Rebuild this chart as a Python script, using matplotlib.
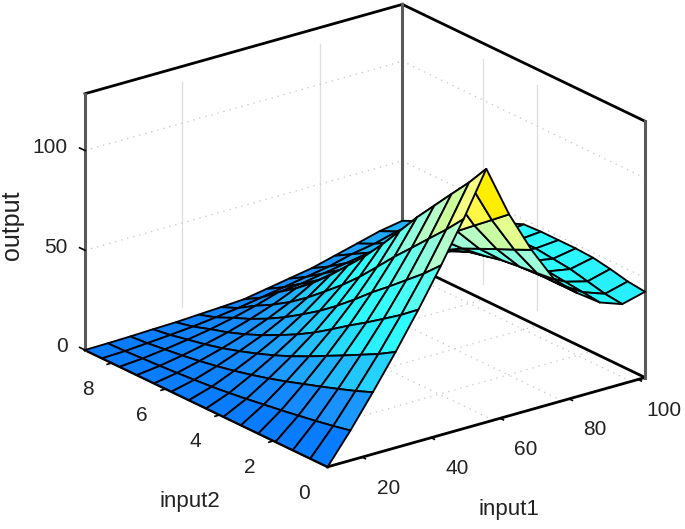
"""Surface of output over input1 / input2, drawn with a hand-placed 3D box."""
import matplotlib
matplotlib.use('Agg')
import matplotlib.pyplot as plt
import numpy as np
from matplotlib.colors import LinearSegmentedColormap, Normalize
from mpl_toolkits.mplot3d import proj3d

plt.rcParams['font.family'] = ['Liberation Sans', 'DejaVu Sans']

W, H = 685, 529

input1 = [10, 16.6, 23.1, 29.7, 36.3, 42.9, 49.4, 56, 62.6, 69.1, 75.7, 82.3, 88.9, 95.4, 102]
input2 = [0, 0.64, 1.29, 1.93, 2.57, 3.21, 3.86, 4.5, 5.14, 5.79, 6.43, 7.07, 7.71, 8.36, 9]

# one row per input1 value, one column per input2 value
output = [
    [0, 0, 0, 0, 0, 0, 0, 0, 0, 0, 0, 0, 0, 0, 0],
    [15, 13.1, 11.4, 9.9, 8.4, 7.1, 5.7, 4.5, 3.5, 2.7, 2, 1.4, 0.9, 0.4, 0.15],
    [31, 27.5, 24.3, 21.3, 18.4, 15.5, 12.8, 10.4, 8.3, 6.4, 4.8, 3.4, 2.3, 1.2, 0.4],
    [48, 42.8, 38.2, 33.7, 29.3, 24.9, 20.7, 17, 13.7, 10.7, 8, 5.8, 4, 2.1, 0.8],
    [66, 59.2, 53, 47, 41.3, 35.3, 29.4, 24.3, 19.8, 15.5, 11.8, 8.6, 6, 3.1, 1.1],
    [85, 76.7, 69.2, 61.8, 54.7, 47, 39.6, 32.9, 27, 21.3, 16.4, 12.1, 8.5, 4.5, 1.7],
    [105, 95.6, 86.8, 78, 69.4, 60.1, 50.9, 42.7, 35.3, 28, 21.6, 16.1, 11.4, 6, 2.3],
    [127, 116, 106, 96, 86, 75, 64, 54, 45, 36, 28, 21, 15, 8, 3],
    [101, 94, 87, 80, 72, 64, 56, 49, 41, 34, 28, 22, 16, 10, 5],
    [80, 76, 72, 68, 64, 59, 53, 47, 41, 35, 29, 24, 18, 12, 7],
    [62, 61, 60, 59, 57, 55, 51, 46, 41, 36, 31, 25, 20, 14, 9],
    [52, 52, 52, 52, 52, 51, 49, 46, 41, 37, 32, 27, 22, 17, 12],
    [44, 45, 46, 47, 48, 48, 47, 45, 42, 38, 34, 29, 24, 19, 15],
    [40, 41, 43, 45, 46, 47, 47, 46, 43, 39, 35, 31, 27, 22, 18],
    [43, 44, 46, 47.5, 48, 48, 48, 47.5, 44, 40, 37, 33, 29, 24, 20],
]

x_ticks = [20, 40, 60, 80, 100]
y_ticks = [0, 2, 4, 6, 8]
z_ticks = [0, 50, 100]

x_wall_grid = [38, 78]
y_wall_grid = [6, 4]
x_floor_grid = [58, 78, 98]
y_floor_grid = [2, 4, 6]

XLIM = (10, 102)
YLIM = (0, 9)
ZLIM = (0, 128.5)

cmap = LinearSegmentedColormap.from_list('surf', [
    (0.0, '#0a7cff'),
    (0.10, '#1a90ff'),
    (0.20, '#22c0ff'),
    (0.30, '#26ecff'),
    (0.40, '#30ffff'),
    (0.52, '#58fff0'),
    (0.66, '#b0ffd4'),
    (0.76, '#ceff98'),
    (0.84, '#fdff80'),
    (1.0, '#ffee00'),
])

fig = plt.figure(figsize=(W / 100, H / 100), dpi=100)
ax = fig.add_axes([0, 0, 1, 1], projection='3d', proj_type='ortho', computed_zorder=False)
ax.view_init(elev=21.6, azim=-127.4)
ax.set_box_aspect((1, 1, 0.69))
ax.set_xlim(*XLIM)
ax.set_ylim(*YLIM)
ax.set_zlim(*ZLIM)
ax.set_axis_off()


def to_px(x, y, z):
    xs, ys, _ = proj3d.proj_transform(x, y, z, ax.get_proj())
    px, py = ax.transData.transform((xs, ys))
    return px, H - py


def place(left, top, size):
    ax.set_position([left / W, (H - top - size) / H, size / W, size / H])
    fig.canvas.draw()


# fit the box onto the reference corners: (85,350) on the left, (645,378) on the right
size = 600
place(40, -40, size)
p1, p2 = to_px(XLIM[0], YLIM[1], 0), to_px(XLIM[1], YLIM[0], 0)
size = size * (645 - 85) / (p2[0] - p1[0])
place(40, -40, size)
p1 = to_px(XLIM[0], YLIM[1], 0)
place(40 + 85 - p1[0], -40 + 350 - p1[1], size)

# walls and floor grid
faint = dict(color='#dedede', lw=0.9, zorder=1)
dots = dict(color='#c4c4c4', lw=0.9, ls=(0, (1, 4)), zorder=1)
for v in x_wall_grid:
    ax.plot([v, v], [YLIM[1], YLIM[1]], [8, ZLIM[1] - 8], **faint)
for v in y_wall_grid:
    ax.plot([XLIM[1], XLIM[1]], [v, v], [8, ZLIM[1] - 8], **faint)
for v in z_ticks[1:]:
    ax.plot(XLIM, [YLIM[1], YLIM[1]], [v, v], **dots)
    ax.plot([XLIM[1], XLIM[1]], YLIM, [v, v], **dots)
for v in x_floor_grid:
    ax.plot([v, v], YLIM, [0, 0], **dots)
for v in y_floor_grid:
    ax.plot(XLIM, [v, v], [0, 0], **dots)

# box
dark = dict(color='black', lw=2.0, zorder=1)
grey = dict(color='#5a5a5a', lw=2.2, zorder=1)
ax.plot(XLIM, [YLIM[1], YLIM[1]], [ZLIM[1], ZLIM[1]], **dark)
ax.plot([XLIM[1], XLIM[1]], YLIM, [ZLIM[1], ZLIM[1]], **dark)
ax.plot([XLIM[1], XLIM[1]], YLIM, [0, 0], **dark)
ax.plot(XLIM, [YLIM[0], YLIM[0]], [0, 0], **dark)
ax.plot([XLIM[0], XLIM[0]], YLIM, [0, 0], **dark)
ax.plot([XLIM[0], XLIM[0]], [YLIM[1], YLIM[1]], ZLIM, **grey)
ax.plot([XLIM[1], XLIM[1]], [YLIM[1], YLIM[1]], ZLIM, **grey)
ax.plot([XLIM[1], XLIM[1]], [YLIM[0], YLIM[0]], ZLIM, **grey)

# ticks
tick = dict(color='black', lw=1.2, zorder=3)
for v in x_ticks:
    ax.plot([v, v], [0, -0.12], [0, 0], **tick)
for v in y_ticks[1:]:
    ax.plot([XLIM[0], XLIM[0] - 1.4], [v, v], [0, 0], **tick)
for v in z_ticks:
    ax.plot([XLIM[0], XLIM[0]], [YLIM[1], YLIM[1] + 0.2], [v, v], **tick)

# surface, each cell coloured from its first corner
X, Y = np.meshgrid(input1, input2, indexing='ij')
Z = np.array(output)
colors = cmap(Normalize(0, 127)(Z))
ax.plot_surface(X, Y, Z, facecolors=colors, rstride=1, cstride=1, shade=False,
                edgecolor='black', linewidth=1.35, antialiased=True, zorder=2)


def label(px, py, s, **kw):
    fig.text(px / W, 1 - py / H, s, ha='center', va='center', color='#222222', **kw)


for v in x_ticks:
    px, py = to_px(v, 0, 0)
    label(px + 26, py + 31, str(v), fontsize=15)
for v in y_ticks:
    px, py = to_px(XLIM[0], v, 0)
    label(px - 24, py + 27, str(v), fontsize=15)
for v in z_ticks:
    px, py = to_px(XLIM[0], YLIM[1], v)
    fig.text((px - 17) / W, 1 - (py - 3) / H, str(v), ha='right', va='center',
             color='#222222', fontsize=15)

label(190, 502, 'input2', fontsize=16)
label(509, 510, 'input1', fontsize=16)
label(12, 225, 'output', fontsize=18, rotation=90)

fig.savefig('out.png', dpi=100)
